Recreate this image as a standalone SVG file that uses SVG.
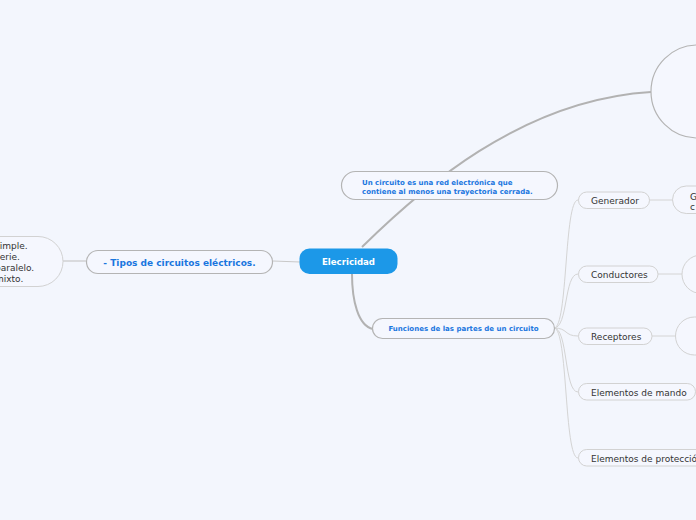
<svg xmlns="http://www.w3.org/2000/svg" width="696" height="520" viewBox="0 0 696 520">
<style>
.bg{fill:#f3f6fd}
.l1{fill:#f5f7fe;stroke:#b4b4b4;stroke-width:1.2}
.l2{fill:#f5f7fe;stroke:#d2d2d2;stroke-width:1}
.bt{font-family:"DejaVu Sans",Verdana,sans-serif;font-weight:bold;fill:#1a76de}
.ct{font-family:"DejaVu Sans",Verdana,sans-serif;font-size:9px;fill:#333333}
.c1{fill:none;stroke:#b2b2b2;stroke-width:2}
.c2{fill:none;stroke:#c8c8c8;stroke-width:1.2}
.c3{fill:none;stroke:#d4d4d4;stroke-width:1}
</style>
<rect class="bg" x="0" y="0" width="696" height="520"/>
<g id="connectors">
<path class="c1" d="M362,247 C420,190 520,100 651,92"/>
<path class="c1" d="M352,274 C352,300 358,326 373,329"/>
<path class="c2" d="M300,262 L273,261"/>
<path class="c2" d="M86,261 L63,261"/>
<path class="c3" d="M554,328 C568,328 564,200 578,200"/>
<path class="c3" d="M554,328 C568,328 564,274 578,274"/>
<path class="c3" d="M554,328 C568,328 564,336 578,336"/>
<path class="c3" d="M554,328 C568,328 564,392 578,392"/>
<path class="c3" d="M554,328 C568,328 564,458 578,458"/>
<path class="c3" d="M649,200 L673,200"/>
<path class="c3" d="M658,274 L682,274"/>
<path class="c3" d="M652,336 L675,336"/>
</g>
<g id="n-center">
<rect x="299.5" y="248.5" width="98" height="25.5" rx="10" fill="#1c98e8"/>
<text x="348.5" y="264.5" text-anchor="middle" font-family="DejaVu Sans,Verdana,sans-serif" font-weight="bold" font-size="8.6" fill="#ffffff">Elecricidad</text>
</g>
<g id="n-def">
<rect class="l1" x="341.5" y="171.5" width="216" height="28" rx="14"/>
<text class="bt" font-size="7" x="362" y="184.5">Un circuito es una red electrónica que</text>
<text class="bt" font-size="7" x="362" y="193.5">contiene al menos una trayectoria cerrada.</text>
</g>
<g id="n-tipos">
<rect class="l1" x="86.5" y="250.5" width="186" height="23" rx="11.5"/>
<text class="bt" font-size="9" x="179.5" y="265.5" text-anchor="middle">- Tipos de circuitos eléctricos.</text>
</g>
<g id="n-lista">
<rect class="l2" x="-40" y="236.5" width="103" height="50" rx="25"/>
<text class="ct" x="-5" y="248.5">simple.</text>
<text class="ct" x="-5" y="259.5">serie.</text>
<text class="ct" x="-5" y="270.5">paralelo.</text>
<text class="ct" x="-5" y="281.5">mixto.</text>
</g>
<g id="n-funciones">
<rect class="l1" x="372.5" y="318.5" width="182" height="20" rx="10"/>
<text class="bt" font-size="7" x="463.5" y="331" text-anchor="middle">Funciones de las partes de un circuito</text>
</g>
<g id="n-circle">
<circle class="l1" cx="697.5" cy="91.5" r="46.5"/>
</g>
<g id="n-generador">
<rect class="l2" x="578.5" y="192" width="71" height="16.5" rx="8.25"/>
<text class="ct" x="591" y="204">Generador</text>
</g>
<g id="n-gen-desc">
<rect class="l2" x="672.5" y="186" width="60" height="27.5" rx="13.75"/>
<text class="ct" x="690" y="200">G</text>
<text class="ct" x="690" y="210">c</text>
</g>
<g id="n-conductores">
<rect class="l2" x="578.5" y="266" width="79.5" height="16.5" rx="8.25"/>
<text class="ct" x="591" y="278">Conductores</text>
</g>
<g id="n-cond-desc">
<rect class="l2" x="682" y="255" width="60" height="38.5" rx="19.25"/>
</g>
<g id="n-receptores">
<rect class="l2" x="578.5" y="328" width="73.5" height="16.5" rx="8.25"/>
<text class="ct" x="591" y="340">Receptores</text>
</g>
<g id="n-rec-desc">
<rect class="l2" x="675.5" y="317" width="60" height="38" rx="19"/>
</g>
<g id="n-mando">
<rect class="l2" x="578.5" y="383.5" width="117" height="16.5" rx="8.25"/>
<text class="ct" x="591" y="395.5">Elementos de mando</text>
</g>
<g id="n-proteccion">
<rect class="l2" x="578.5" y="449.5" width="140" height="16.5" rx="8.25"/>
<text class="ct" x="591" y="461.5">Elementos de protección</text>
</g>
</svg>
